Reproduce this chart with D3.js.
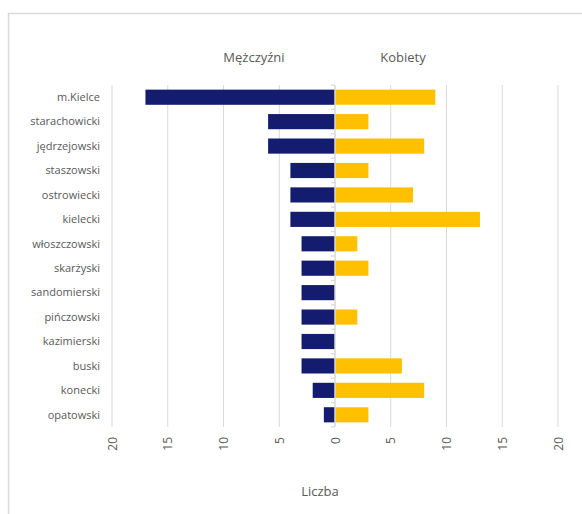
<!DOCTYPE html>
<html>
<head>
    <meta charset="utf-8">
    <script src="https://cdn.jsdelivr.net/npm/d3@7"></script>
    <style>
        body { margin: 0; background: #fff; }
        svg text { font-family: "Open Sans", "Liberation Sans", sans-serif; fill: #595959; }
    </style>
</head>
<body>
<div id="chart"></div>
<script>
    var categories = ['m.Kielce', 'starachowicki', 'jędrzejowski', 'staszowski', 'ostrowiecki', 'kielecki',
                      'włoszczowski', 'skarżyski', 'sandomierski', 'pińczowski', 'kazimierski', 'buski',
                      'konecki', 'opatowski'];
    var men   = [17, 6, 6, 4, 4, 4, 3, 3, 3, 3, 3, 3, 2, 1];
    var women = [9, 3, 8, 3, 7, 13, 2, 3, 0, 2, 0, 6, 8, 3];
    var ticks = [-20, -15, -10, -5, 0, 5, 10, 15, 20];
    var seriesNames = ['Mężczyźni', 'Kobiety'];

    var W = 582, H = 514;
    var svg = d3.select('#chart').append('svg').attr('width', W).attr('height', H);

    // chart frame (only top and left edges visible)
    svg.append('rect')
        .attr('x', 8.5).attr('y', 13.5).attr('width', 600).attr('height', 520)
        .attr('fill', 'none').attr('stroke', '#d9d9d9').attr('stroke-width', 1.5);

    var x = d3.scaleLinear().domain([-20, 20]).range([112, 558]);
    var y = d3.scaleBand().domain(categories).range([85, 427]).paddingInner(0.38).paddingOuter(0.19);

    // gridlines
    svg.append('g').selectAll('line').data(ticks.filter(function(t) { return t !== 0; })).enter().append('line')
        .attr('x1', function(d) { return x(d); }).attr('x2', function(d) { return x(d); })
        .attr('y1', 85).attr('y2', 427)
        .attr('stroke', '#d9d9d9').attr('stroke-width', 1);

    // bars
    svg.append('g').selectAll('rect').data(categories).enter().append('rect')
        .attr('x', function(d, i) { return x(-men[i]); })
        .attr('y', function(d) { return y(d); })
        .attr('width', function(d, i) { return x(0) - x(-men[i]); })
        .attr('height', y.bandwidth())
        .attr('fill', '#131c6e');

    svg.append('g').selectAll('rect').data(categories).enter().append('rect')
        .attr('x', x(0))
        .attr('y', function(d) { return y(d); })
        .attr('width', function(d, i) { return x(women[i]) - x(0); })
        .attr('height', y.bandwidth())
        .attr('fill', '#ffc000');

    // vertical axis at zero with small ticks between categories
    var step = y.step();
    var bounds = d3.range(categories.length + 1).map(function(i) { return 85 + i * step; });
    var ax = svg.append('g');
    ax.append('line')
        .attr('x1', x(0)).attr('x2', x(0)).attr('y1', 85).attr('y2', 427)
        .attr('stroke', '#d9d9d9').attr('stroke-width', 1.5);
    ax.selectAll('.tk').data(bounds).enter().append('line')
        .attr('x1', x(0) - 4).attr('x2', x(0))
        .attr('y1', function(d) { return d; }).attr('y2', function(d) { return d; })
        .attr('stroke', '#d9d9d9').attr('stroke-width', 1.2);

    // category labels
    svg.append('g').selectAll('text').data(categories).enter().append('text')
        .attr('x', 100)
        .attr('y', function(d) { return y(d) + y.bandwidth() / 2; })
        .attr('dy', '0.35em')
        .attr('text-anchor', 'end')
        .attr('font-size', 11)
        .text(function(d) { return d; });

    // value axis labels (rotated)
    var xAxis = d3.axisBottom(x).tickValues(ticks).tickSize(0).tickFormat(function(d) { return Math.abs(d); });
    var g = svg.append('g').attr('transform', 'translate(0,437)').call(xAxis);
    g.select('.domain').remove();
    g.selectAll('text')
        .attr('font-size', 12)
        .attr('font-family', '"Open Sans", sans-serif')
        .attr('fill', '#595959')
        .attr('transform', 'rotate(-90)')
        .attr('text-anchor', 'end')
        .attr('x', 0).attr('y', 0)
        .attr('dy', '0.35em');

    // series titles
    svg.append('text').attr('x', 254).attr('y', 62).attr('text-anchor', 'middle')
        .attr('font-size', 13).text(seriesNames[0]);
    svg.append('text').attr('x', 403).attr('y', 62).attr('text-anchor', 'middle')
        .attr('font-size', 13).text(seriesNames[1]);

    // axis title
    svg.append('text').attr('x', 320).attr('y', 496).attr('text-anchor', 'middle')
        .attr('font-size', 13).text('Liczba');
</script>
</body>
</html>
